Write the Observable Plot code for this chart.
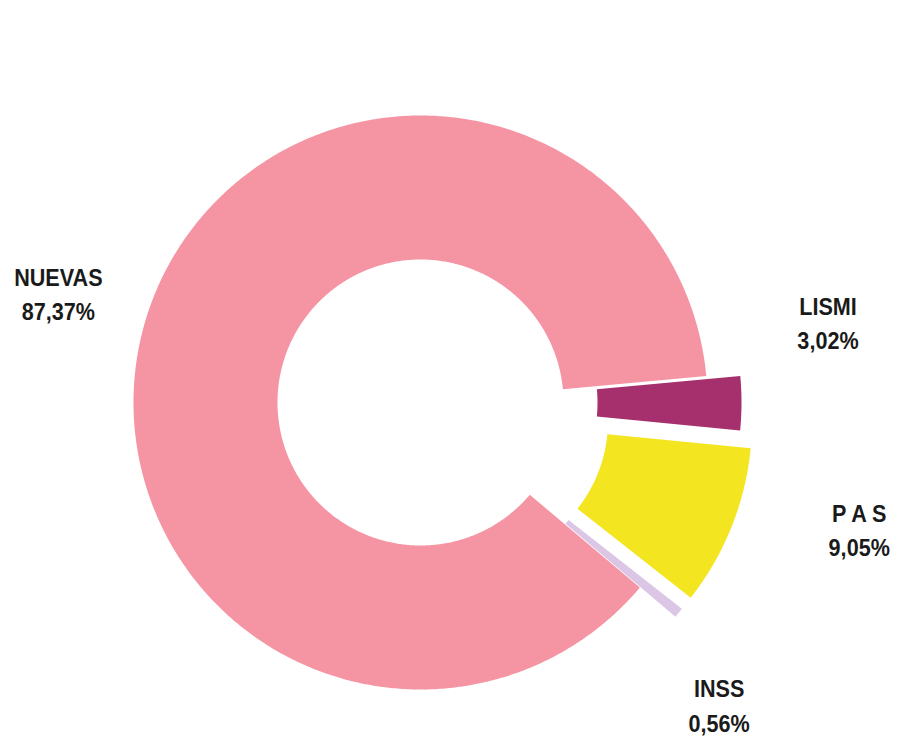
<!DOCTYPE html>
<html>
<head>
<meta charset="utf-8">
<script src="https://cdn.jsdelivr.net/npm/d3@7"></script>
<script src="https://cdn.jsdelivr.net/npm/@observablehq/plot@0.6"></script>
<style>
  html, body { margin: 0; padding: 0; background: #ffffff; }
  #chart svg { display: block; }
  #chart svg g[aria-label="text"] {
    transform-box: fill-box;
    transform-origin: center;
    transform: scaleX(0.92);
  }
</style>
</head>
<body>
<div id="chart"></div>
<script>
// ---- data (clockwise order, starting just above 3 o'clock) ----
const categories = ["LISMI", "P A S", "INSS", "NUEVAS"];
const values = [3.02, 9.05, 0.56, 87.37];
const colors = ["#a5306d", "#f3e51f", "#dcc6e6", "#f595a3"];

// ---- layout / style settings ----
const W = 897, H = 740;
const CX = 420, CY = 402;          // pixel position of donut centre
const R_OUT = 287, R_IN = 143;
const START_DEG = 84.7;            // clockwise from 12 o'clock
const explode = [34, 48, 46, 0];
const LABEL_R = 400;
const labelNudge = [[8, -82], [68, -23], [-11, 49], [20, 10]];

const total = d3.sum(values);
const rad = Math.PI / 180;
let acc = START_DEG;
const slices = categories.map((name, i) => {
  const a0 = acc, a1 = acc + values[i] / total * 360;
  acc = a1;
  return {name, value: values[i], color: colors[i], a0, a1, mid: (a0 + a1) / 2, explode: explode[i], i};
});

function polygon(s) {
  const ox = s.explode * Math.sin(s.mid * rad), oy = -s.explode * Math.cos(s.mid * rad);
  const n = Math.max(2, Math.ceil((s.a1 - s.a0) / 0.5));
  const pts = [];
  for (let k = 0; k <= n; k++) {
    const a = (s.a0 + (s.a1 - s.a0) * k / n) * rad;
    pts.push({x: ox + R_OUT * Math.sin(a), y: oy - R_OUT * Math.cos(a)});
  }
  for (let k = n; k >= 0; k--) {
    const a = (s.a0 + (s.a1 - s.a0) * k / n) * rad;
    pts.push({x: ox + R_IN * Math.sin(a), y: oy - R_IN * Math.cos(a)});
  }
  pts.push(pts[0]);
  return pts;
}

const labels = slices.map(s => ({
  x: LABEL_R * Math.sin(s.mid * rad) + labelNudge[s.i][0],
  y: -LABEL_R * Math.cos(s.mid * rad) + labelNudge[s.i][1],
  text: s.name + "\n" + s.value.toFixed(2).replace(".", ",") + "%"
}));

const plot = Plot.plot({
  width: W,
  height: H,
  margin: 0,
  x: {domain: [-CX, W - CX], range: [0, W], axis: null},
  y: {domain: [-CY, H - CY], range: [0, H], axis: null},
  style: {background: "#ffffff"},
  marks: [
    ...slices.map(s => Plot.line(polygon(s), {
      x: "x", y: "y", fill: s.color, stroke: "none", curve: "linear"
    })),
    ...labels.map(l => Plot.text([l], {
      x: "x", y: "y", text: "text",
      fontSize: 23.5, fontWeight: "bold", lineHeight: 1.45,
      fontFamily: "'Liberation Sans', Arial, sans-serif",
      fill: "#1a1a1a", textAnchor: "middle", lineAnchor: "middle"
    }))
  ]
});
document.getElementById("chart").appendChild(plot);
</script>
</body>
</html>
